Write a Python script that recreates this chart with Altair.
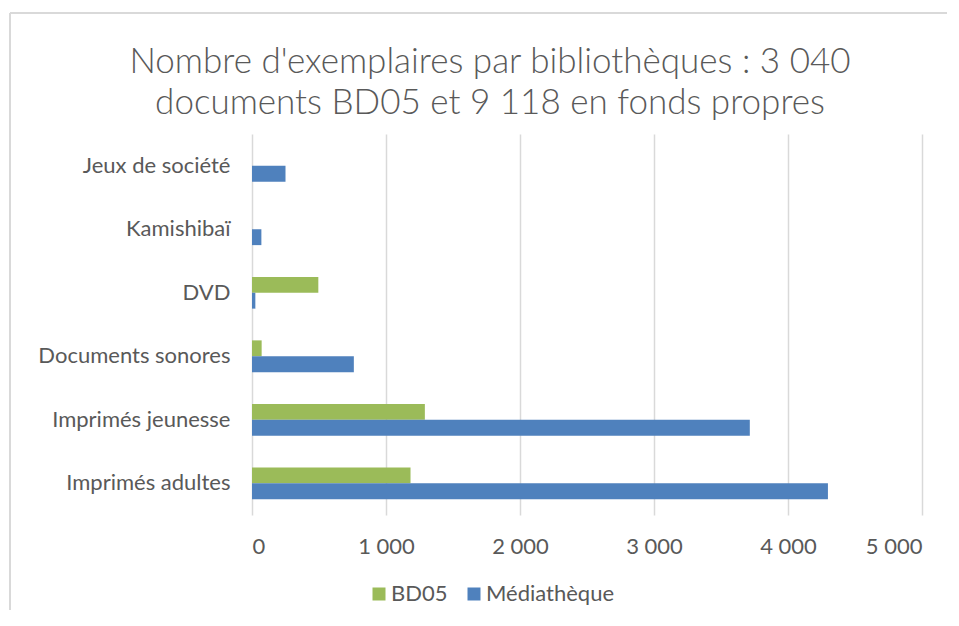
import altair as alt
import pandas as pd

categories = ["Jeux de société", "Kamishibaï", "DVD\u00a0", "Documents sonores",
              "Imprimés jeunesse", "Imprimés adultes"]
series = ["BD05", "Médiathèque"]
bd05 = [0, 0, 495, 72, 1290, 1183]
mediatheque = [250, 70, 25, 760, 3715, 4298]
x_ticks = [0, 1000, 2000, 3000, 4000, 5000]
colors = ["#9BBB59", "#4F81BD"]
title_lines = ["Nombre d'exemplaires par bibliothèques : 3 040",
               "documents BD05 et 9 118 en fonds propres"]

rows = []
for c, b, m in zip(categories, bd05, mediatheque):
    rows.append({"cat": c, "serie": "BD05", "val": b})
    rows.append({"cat": c, "serie": "Médiathèque", "val": m})
df = pd.DataFrame(rows)

FONT = "Lato"
TXT = "#595959"
FS = 22

bars = alt.Chart(df).mark_bar().encode(
    x=alt.X("val:Q",
            scale=alt.Scale(domain=[0, 5000], nice=False),
            axis=alt.Axis(values=x_ticks, title=None, domain=False, ticks=False,
                          grid=True, gridColor="#d9d9d9", gridWidth=1.5,
                          labelPadding=21, labelFontSize=FS, labelColor=TXT,
                          labelFont=FONT,
                          labelExpr="replace(format(datum.value, ','), ',', ' ')")),
    y=alt.Y("cat:N", sort=categories,
            scale=alt.Scale(paddingInner=0.5, paddingOuter=0.25),
            axis=alt.Axis(title=None, domain=False, ticks=False, labelPadding=22,
                          labelLimit=400,
                          labelFontSize=FS, labelColor=TXT, labelFont=FONT)),
    yOffset=alt.YOffset("serie:N", sort=series,
                        scale=alt.Scale(paddingInner=0, paddingOuter=0)),
    color=alt.Color("serie:N",
                    scale=alt.Scale(domain=series, range=colors),
                    legend=alt.Legend(title=None, orient="none", direction="horizontal",
                                      legendX=116, legendY=449, symbolType="square",
                                      symbolSize=169, symbolStrokeWidth=0,
                                      labelFontSize=FS, labelColor=TXT, labelFont=FONT,
                                      labelOffset=1, columnPadding=15, padding=0)),
)

border_df = pd.DataFrame({"k": [0]})
top_line = alt.Chart(border_df).mark_rule(color="#d9d9d9", strokeWidth=2).encode(
    x=alt.value(-242), x2=alt.value(707), y=alt.value(-121))
left_line = alt.Chart(border_df).mark_rule(color="#d9d9d9", strokeWidth=2).encode(
    x=alt.value(-242), y=alt.value(-121), y2=alt.value(500))

chart = alt.layer(top_line, left_line, bars).properties(
    width=670, height=381,
    background="white",
    autosize=alt.AutoSizeParams(type="none"),
    padding={"left": 244, "top": 126, "right": 25, "bottom": 95},
    title=alt.TitleParams(title_lines, anchor="middle", frame="group", dx=-97,
                          offset=-109, fontSize=35, font=FONT, fontWeight=300,
                          color=TXT, lineHeight=41),
).configure_view(stroke=None)

chart.save("out.html", embed_options={"renderer": "svg", "actions": False})
